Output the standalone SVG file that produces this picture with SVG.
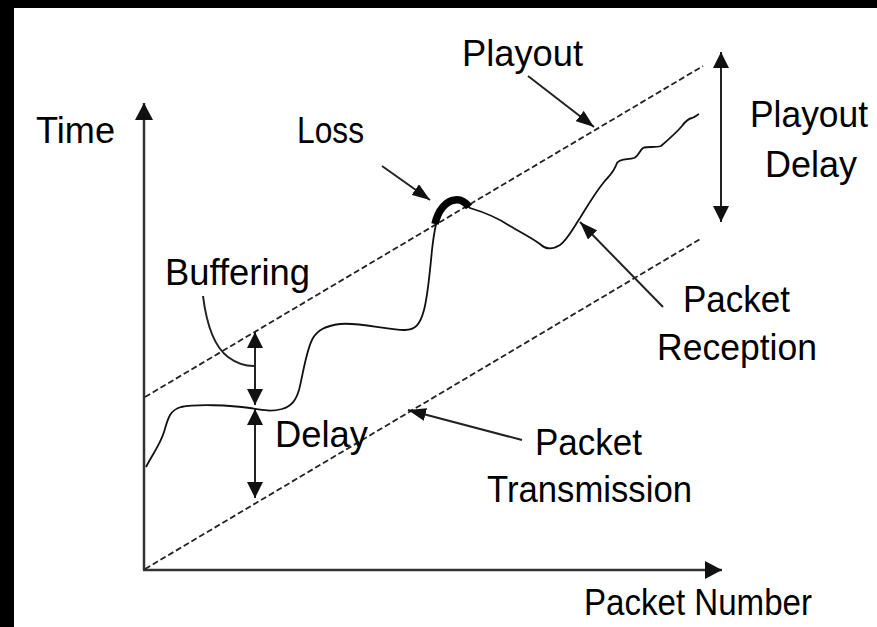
<svg xmlns="http://www.w3.org/2000/svg" width="877" height="627" viewBox="0 0 877 627">
  <style>
    .label { font-family: "Liberation Sans", Arial, sans-serif; font-size: 37px; fill: #000; }
    .axis { stroke: #333; stroke-width: 2.5; fill: none; }
    .dash { stroke: #222; stroke-width: 1.8; stroke-dasharray: 6 3; fill: none; }
    .curve { stroke: #111; stroke-width: 1.8; fill: none; stroke-linejoin: round; }
    .dim { stroke: #222; stroke-width: 2; fill: none; }
    .pointer { stroke: #222; stroke-width: 2; fill: none; }
  </style>
  <defs>
    <marker id="axisHead" viewBox="0 0 17 18" refX="17" refY="9" markerWidth="17" markerHeight="18" markerUnits="userSpaceOnUse" orient="auto">
      <path d="M0,0 L17,9 L0,18 z" fill="#111"/>
    </marker>
    <marker id="dimHead" viewBox="0 0 16 16" refX="16" refY="8" markerWidth="16" markerHeight="16" markerUnits="userSpaceOnUse" orient="auto-start-reverse">
      <path d="M0,0 L16,8 L0,16 z" fill="#111"/>
    </marker>
    <marker id="ptrHead" viewBox="0 0 18 13" refX="18" refY="6.5" markerWidth="18" markerHeight="13" markerUnits="userSpaceOnUse" orient="auto">
      <path d="M0,0 L18,6.5 L0,13 z" fill="#111"/>
    </marker>
  </defs>

  <rect x="0" y="0" width="877" height="627" fill="#fff"/>
  <!-- frame edges -->
  <rect x="0" y="0" width="14" height="627" fill="#000"/>
  <rect x="0" y="0" width="877" height="8" fill="#000"/>

  <g id="axes">
    <line class="axis" x1="144" y1="570" x2="144" y2="103" marker-end="url(#axisHead)"/>
    <line class="axis" x1="143" y1="570" x2="722" y2="570" marker-end="url(#axisHead)"/>
  </g>

  <g id="playout-line">
    <line class="dash" x1="145" y1="397" x2="703" y2="66"/>
  </g>
  <g id="transmission-line">
    <line class="dash" x1="145" y1="569" x2="702" y2="238"/>
  </g>

  <g id="reception-curve">
    <path class="curve" d="M146,467 C152,455 160,445 164,432 C168,418 170,410 181,407 C195,404 230,405 250,408 C262,410 270,412 282,409 C292,406 296,400 299,390 C303,375 306,350 313,338 C318,330 325,326 340,324 C360,322 385,330 405,330 C415,330 420,325 424,310 C428,295 430,270 432,250 C434,232 436,220 440,212 C444,204 449,200 455,200 C462,200 466,204 470,208 C480,211 495,216 510,226 C522,233 532,238 540,244 C545,249 552,250 560,245 C567,240 572,230 580,218 C588,205 595,193 604,182 C610,175 614,172 617,163 C620,158 628,160 634,158 C638,157 640,150 643,148 C648,146 655,148 661,146 C668,140 676,133 682,126 C685,122 687,119 692,118 C695,117 697,115 699,114"/>
  </g>

  <g id="loss-mark">
    <path d="M435,224 C438,210 446,201 455,200 C462,199 466,203 469,207" stroke="#000" stroke-width="7.5" fill="none"/>
  </g>

  <g id="connectors">
    <line class="dim" x1="721" y1="52" x2="721" y2="222" marker-start="url(#dimHead)" marker-end="url(#dimHead)"/>
    <line class="dim" x1="255" y1="332" x2="255" y2="405" marker-start="url(#dimHead)" marker-end="url(#dimHead)"/>
    <line class="dim" x1="255" y1="409" x2="255" y2="498" marker-start="url(#dimHead)" marker-end="url(#dimHead)"/>
    <line class="pointer" x1="382" y1="166" x2="430" y2="200" marker-end="url(#ptrHead)"/>
    <line class="pointer" x1="528" y1="76" x2="594" y2="127" marker-end="url(#ptrHead)"/>
    <line class="pointer" x1="663" y1="307" x2="580" y2="222" marker-end="url(#ptrHead)"/>
    <line class="pointer" x1="522" y1="440" x2="408" y2="410" marker-end="url(#ptrHead)"/>
    <path class="pointer" d="M203,296 C206,320 212,345 228,357 C236,363 244,366 254,366"/>
  </g>

  <g id="label-time"><text class="label" x="36" y="143" textLength="79" lengthAdjust="spacingAndGlyphs">Time</text></g>
  <g id="label-loss"><text class="label" x="297" y="143" textLength="67" lengthAdjust="spacingAndGlyphs">Loss</text></g>
  <g id="label-playout"><text class="label" x="462" y="66" textLength="121" lengthAdjust="spacingAndGlyphs">Playout</text></g>
  <g id="label-playout-delay">
    <text class="label" x="750" y="127" textLength="118" lengthAdjust="spacingAndGlyphs">Playout</text>
    <text class="label" x="765" y="177" textLength="92" lengthAdjust="spacingAndGlyphs">Delay</text>
  </g>
  <g id="label-buffering"><text class="label" x="165" y="285" textLength="145" lengthAdjust="spacingAndGlyphs">Buffering</text></g>
  <g id="label-delay"><text class="label" x="275" y="447" textLength="93" lengthAdjust="spacingAndGlyphs">Delay</text></g>
  <g id="label-reception">
    <text class="label" x="683" y="312" textLength="107" lengthAdjust="spacingAndGlyphs">Packet</text>
    <text class="label" x="657" y="360" textLength="160" lengthAdjust="spacingAndGlyphs">Reception</text>
  </g>
  <g id="label-transmission">
    <text class="label" x="535" y="455" textLength="107" lengthAdjust="spacingAndGlyphs">Packet</text>
    <text class="label" x="487" y="502" textLength="205" lengthAdjust="spacingAndGlyphs">Transmission</text>
  </g>
  <g id="label-packet-number"><text class="label" x="584" y="615" textLength="228" lengthAdjust="spacingAndGlyphs">Packet Number</text></g>
</svg>
